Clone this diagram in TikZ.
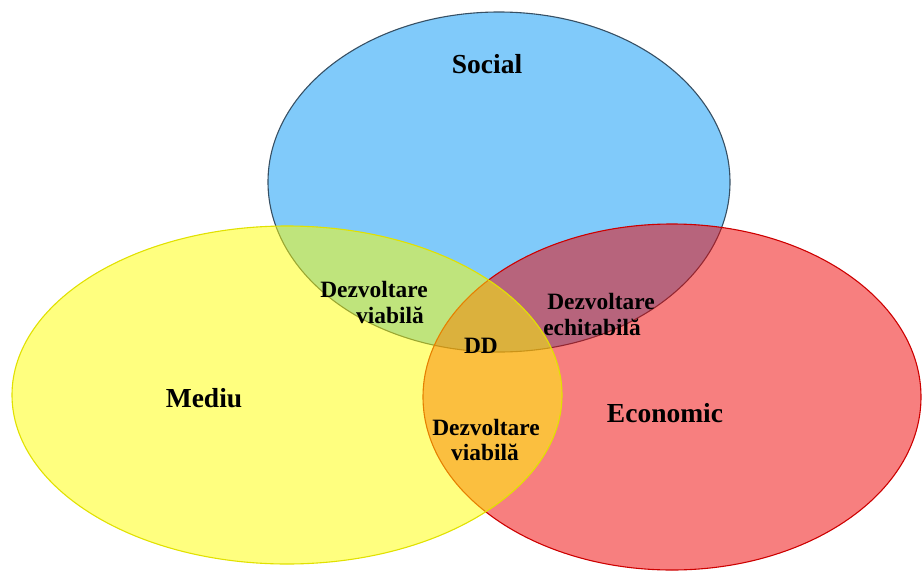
\documentclass[tikz,border=0pt]{standalone}
\usepackage{fontspec}
\setmainfont{Liberation Serif}
\definecolor{cblue}{RGB}{1,149,245}
\definecolor{cyellow}{RGB}{255,255,0}
\definecolor{cred}{RGB}{240,0,0}
\definecolor{lblue}{RGB}{55,80,100}
\definecolor{lyellow}{RGB}{225,225,0}
\definecolor{lred}{RGB}{205,0,0}
\tikzset{
  setbox/.style={fill opacity=0.5, line width=1.1pt},
  bigtxt/.style={anchor=base, inner sep=0pt, font=\bfseries\fontsize{27.5}{30}\selectfont},
  smalltxt/.style={anchor=base, inner sep=0pt, font=\bfseries\fontsize{23.4}{26}\selectfont}
}
\begin{document}
\begin{tikzpicture}[x=1pt,y=-1pt]
\useasboundingbox (0,0) rectangle (922,573);
\draw[setbox, fill=cblue, draw=lblue] (499,182) ellipse [x radius=231, y radius=170];
\draw[setbox, fill=cred, draw=lred] (672,397) ellipse [x radius=249, y radius=173];
\draw[setbox, fill=cyellow, draw=lyellow] (287,395) ellipse [x radius=275, y radius=169];
\node[bigtxt] (social) at (487,73) {Social};
\node[bigtxt] (mediu) at (204,407) {Mediu};
\node[bigtxt] (economic) at (665,422) {Economic};
\node[smalltxt] (dv1a) at (374,297) {Dezvoltare};
\node[smalltxt] (dv1b) at (390,323) {viabilă};
\node[smalltxt] (dea) at (601,309) {Dezvoltare};
\node[smalltxt] (deb) at (592,335) {echitabilă};
\node[smalltxt] (dd) at (481,353) {DD};
\node[smalltxt] (dv2a) at (486,435) {Dezvoltare};
\node[smalltxt] (dv2b) at (485,460) {viabilă};
\end{tikzpicture}
\end{document}
